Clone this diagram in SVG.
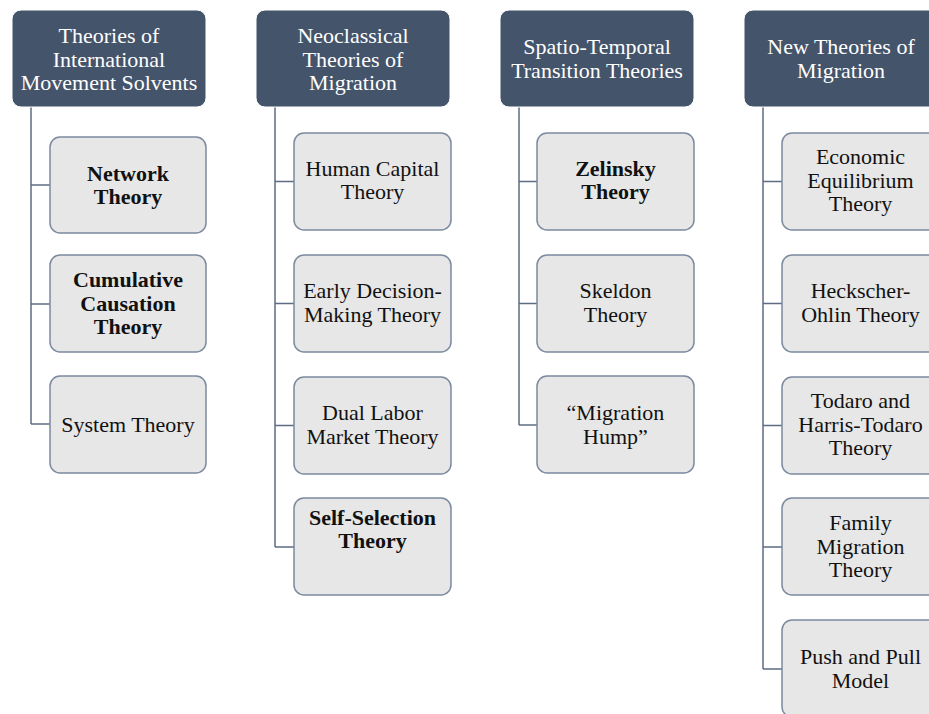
<svg xmlns="http://www.w3.org/2000/svg" width="929" height="714" viewBox="0 0 929 714">
<style>
.hdr rect{fill:#44546a;stroke:#ffffff;stroke-width:1}
.hdr text{fill:#ffffff}
.ch rect{fill:#e7e7e7;stroke:#7b8a9e;stroke-width:1.5}
.ch text{fill:#111111}
text{font-family:"Liberation Serif","Times New Roman",serif;font-size:22px;text-anchor:middle;dominant-baseline:central}
.b{font-weight:bold}
.conn{fill:none;stroke:#5d6c82;stroke-width:1.5}
</style>
<rect width="929" height="714" fill="#ffffff"/>
<g id="connectors" class="conn">
<path d="M31 107V424M31 185H50M31 304H50M31 424H50"/>
<path d="M275 107V547M275 181.5H294M275 303.5H294M275 425.5H294M275 547H294"/>
<path d="M519 107V425M519 181.5H537M519 303.5H537M519 425H537"/>
<path d="M763 107V669M763 181.5H782M763 303.5H782M763 425.5H782M763 547H782M763 669H782"/>
</g>
<g id="h1" class="hdr"><rect x="12" y="10" width="194" height="97" rx="9"/><text x="109" y="35.5">Theories of</text><text x="109" y="59">International</text><text x="109" y="82.5">Movement Solvents</text></g>
<g id="h2" class="hdr"><rect x="256" y="10" width="194" height="97" rx="9"/><text x="353" y="35.5">Neoclassical</text><text x="353" y="59">Theories of</text><text x="353" y="82.5">Migration</text></g>
<g id="h3" class="hdr"><rect x="500" y="10" width="194" height="97" rx="9"/><text x="597" y="46.75">Spatio-Temporal</text><text x="597" y="70.25">Transition Theories</text></g>
<g id="h4" class="hdr"><rect x="744" y="10" width="194" height="97" rx="9"/><text x="841" y="46.75">New Theories of</text><text x="841" y="70.25">Migration</text></g>

<g id="c1a" class="ch"><rect x="50" y="137" width="156" height="96" rx="10"/><text class="b" x="128" y="173">Network</text><text class="b" x="128" y="196.5">Theory</text></g>
<g id="c1b" class="ch"><rect x="50" y="255" width="156" height="97" rx="10"/><text class="b" x="128" y="279.5">Cumulative</text><text class="b" x="128" y="303">Causation</text><text class="b" x="128" y="326.5">Theory</text></g>
<g id="c1c" class="ch"><rect x="50" y="376" width="156" height="97" rx="10"/><text x="128" y="424.5">System Theory</text></g>

<g id="c2a" class="ch"><rect x="294" y="133" width="157" height="97" rx="10"/><text x="372.5" y="168">Human Capital</text><text x="372.5" y="191.5">Theory</text></g>
<g id="c2b" class="ch"><rect x="294" y="255" width="157" height="97" rx="10"/><text x="372.5" y="290.5">Early Decision-</text><text x="372.5" y="314">Making Theory</text></g>
<g id="c2c" class="ch"><rect x="294" y="377" width="157" height="97" rx="10"/><text x="372.5" y="412.5">Dual Labor</text><text x="372.5" y="436">Market Theory</text></g>
<g id="c2d" class="ch"><rect x="294" y="498" width="157" height="97" rx="10"/><text class="b" x="372.5" y="517">Self-Selection</text><text class="b" x="372.5" y="540.5">Theory</text></g>

<g id="c3a" class="ch"><rect x="537" y="133" width="157" height="97" rx="10"/><text class="b" x="615.5" y="168">Zelinsky</text><text class="b" x="615.5" y="191.5">Theory</text></g>
<g id="c3b" class="ch"><rect x="537" y="255" width="157" height="97" rx="10"/><text x="615.5" y="290.5">Skeldon</text><text x="615.5" y="314">Theory</text></g>
<g id="c3c" class="ch"><rect x="537" y="376" width="157" height="97" rx="10"/><text x="615.5" y="412.5">“Migration</text><text x="615.5" y="436">Hump”</text></g>

<g id="c4a" class="ch"><rect x="782" y="133" width="157" height="97" rx="10"/><text x="860.5" y="156.5">Economic</text><text x="860.5" y="180">Equilibrium</text><text x="860.5" y="203.5">Theory</text></g>
<g id="c4b" class="ch"><rect x="782" y="255" width="157" height="97" rx="10"/><text x="860.5" y="290.5">Heckscher-</text><text x="860.5" y="314">Ohlin Theory</text></g>
<g id="c4c" class="ch"><rect x="782" y="377" width="157" height="97" rx="10"/><text x="860.5" y="400.5">Todaro and</text><text x="860.5" y="424">Harris-Todaro</text><text x="860.5" y="447.5">Theory</text></g>
<g id="c4d" class="ch"><rect x="782" y="498" width="157" height="97" rx="10"/><text x="860.5" y="522.5">Family</text><text x="860.5" y="546">Migration</text><text x="860.5" y="569.5">Theory</text></g>
<g id="c4e" class="ch"><rect x="782" y="620" width="157" height="97" rx="10"/><text x="860.5" y="656.5">Push and Pull</text><text x="860.5" y="680">Model</text></g>
</svg>
